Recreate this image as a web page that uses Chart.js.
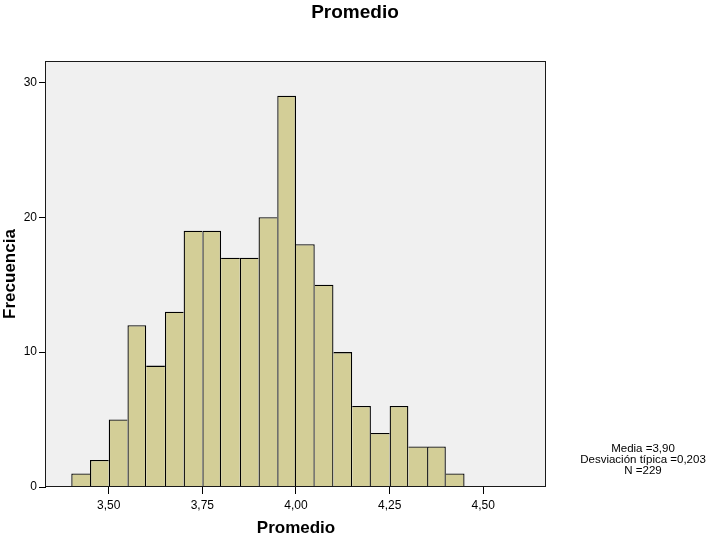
<!DOCTYPE html>
<html>
<head>
<meta charset="utf-8">
<script src="https://cdn.jsdelivr.net/npm/chart.js@4.4.1/dist/chart.umd.min.js"></script>
<style>
  html, body { margin: 0; padding: 0; background: #ffffff; }
  #wrap { width: 710px; height: 537px; position: relative; }
  canvas { display: block; }
</style>
</head>
<body>
<div id="wrap"><canvas id="c" width="710" height="537"></canvas></div>
<script>
// ---- data ----
const chartTitle = 'Promedio';
const xAxisTitle = 'Promedio';
const yAxisTitle = 'Frecuencia';
const binLower = [3.40, 3.45, 3.50, 3.55, 3.60, 3.65, 3.70, 3.75, 3.80, 3.85, 3.90, 3.95, 4.00, 4.05, 4.10, 4.15, 4.20, 4.25, 4.30, 4.35, 4.40];
const counts   = [1, 2, 5, 12, 9, 13, 19, 19, 17, 17, 20, 29, 18, 15, 10, 6, 4, 6, 3, 3, 1];
const binWidth = 0.05;
const xTickValues = [3.50, 3.75, 4.00, 4.25, 4.50];
const yTickValues = [0, 10, 20, 30];
const statsLines = ['Media =3,90', 'Desviación típica =0,203', 'N =229'];

const FONT = "'Liberation Sans', Arial, Helvetica, sans-serif";

const points = binLower.map((lo, i) => ({ x: lo + binWidth / 2, y: counts[i] }));

// border only on the taller side of each shared edge, so edges are single lines
function barBorder(ctx) {
  const i = ctx.dataIndex;
  const c = counts[i];
  const w = 1.3;
  const left = (i === 0 || c >= counts[i - 1]) ? w : 0;
  const right = (i === counts.length - 1 || c > counts[i + 1]) ? w : 0;
  return { left: left, right: right, top: w, bottom: 0 };
}

const framePlugin = {
  id: 'frame',
  beforeDraw(chart) {
    const { ctx, chartArea: a } = chart;
    ctx.save();
    ctx.fillStyle = '#f0f0f0';
    ctx.fillRect(a.left, a.top, a.right - a.left, a.bottom - a.top);
    ctx.restore();
  },
  afterDatasetsDraw(chart) {
    const { ctx, chartArea: a } = chart;
    ctx.save();
    ctx.strokeStyle = '#1a1a1a';
    ctx.lineWidth = 1;
    ctx.strokeRect(Math.round(a.left) - 0.5, Math.round(a.top) + 0.5,
                   Math.round(a.right) - Math.round(a.left), Math.round(a.bottom) - Math.round(a.top) - 1);
    ctx.restore();
  },
  afterDraw(chart) {
    const { ctx } = chart;
    ctx.save();
    ctx.fillStyle = '#000';
    ctx.textAlign = 'center';
    ctx.textBaseline = 'alphabetic';
    ctx.font = 'bold 19px ' + FONT;
    ctx.fillText(chartTitle, 355, 18);
    ctx.font = '11.5px ' + FONT;
    statsLines.forEach((t, k) => ctx.fillText(t, 643, 452 + k * 11));
    ctx.restore();
  }
};

new Chart(document.getElementById('c'), {
  type: 'bar',
  data: {
    datasets: [{
      data: points,
      backgroundColor: '#d3ce97',
      borderColor: '#000000',
      borderWidth: barBorder,
      borderSkipped: false,
      barPercentage: 1,
      categoryPercentage: 1,
      inflateAmount: 0
    }]
  },
  options: {
    responsive: false,
    animation: false,
    devicePixelRatio: 1,
    layout: { padding: { left: 0, top: 61, right: 164, bottom: 0 } },
    plugins: { legend: { display: false }, tooltip: { enabled: false }, title: { display: false } },
    scales: {
      x: {
        type: 'linear',
        offset: false,
        min: 3.3325,
        max: 4.6675,
        afterFit(s) { s.height = 50; },
        afterBuildTicks(s) { s.ticks = xTickValues.map(v => ({ value: v })); },
        grid: { display: true, offset: false, drawOnChartArea: false, drawTicks: true, tickLength: 7, tickColor: '#000', tickWidth: 1 },
        border: { display: false },
        ticks: {
          color: '#000',
          font: { family: FONT, size: 12 },
          padding: 4,
          maxRotation: 0,
          autoSkip: false,
          callback: v => v.toFixed(2).replace('.', ',')
        },
        title: {
          display: true,
          text: xAxisTitle,
          color: '#000',
          font: { family: FONT, size: 17, weight: 'bold', lineHeight: 1 },
          padding: { top: 0, bottom: 0 }
        }
      },
      y: {
        min: 0,
        max: 31.58,
        afterFit(s) { s.width = 46; },
        afterBuildTicks(s) { s.ticks = yTickValues.map(v => ({ value: v })); },
        grid: { display: true, drawOnChartArea: false, drawTicks: true, tickLength: 7, tickColor: '#000', tickWidth: 1 },
        border: { display: false },
        ticks: {
          color: '#000',
          font: { family: FONT, size: 12 },
          padding: 2,
          autoSkip: false
        },
        title: {
          display: true,
          text: yAxisTitle,
          color: '#000',
          font: { family: FONT, size: 17, weight: 'bold', lineHeight: 1 },
          padding: { top: 1.5, bottom: 0 }
        }
      }
    }
  },
  plugins: [framePlugin]
});
</script>
</body>
</html>
